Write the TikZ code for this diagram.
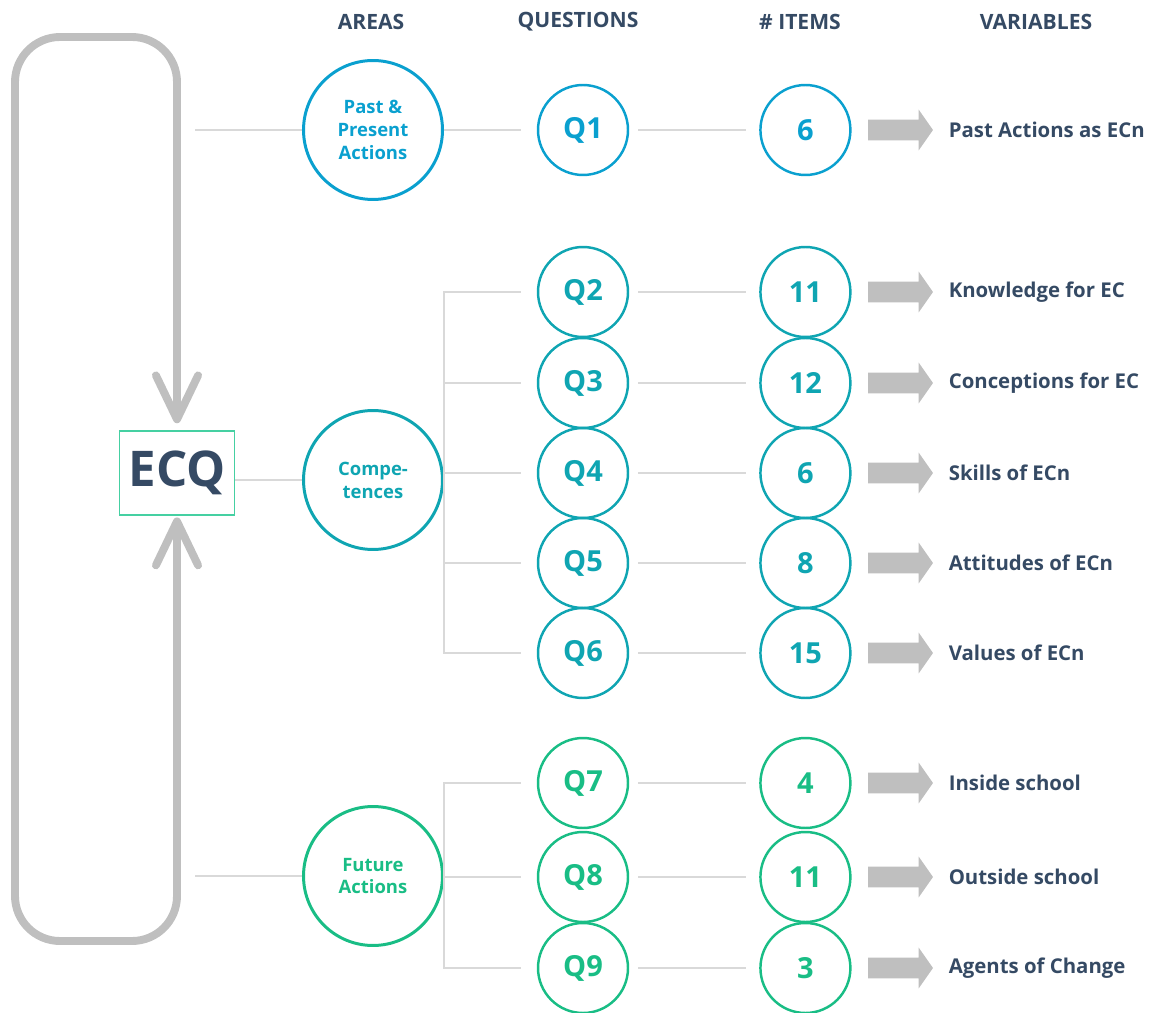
\documentclass[tikz,border=0pt]{standalone}
\usepackage{fontspec}
\setmainfont{Open Sans}
\usetikzlibrary{positioning, arrows.meta, shapes.arrows}
\definecolor{navy}{HTML}{354A64}
\definecolor{pastblue}{HTML}{0AA0CF}
\definecolor{compteal}{HTML}{0FA5B2}
\definecolor{futgreen}{HTML}{19BD85}
\definecolor{loopgray}{HTML}{BFBFBF}
\definecolor{linkgray}{HTML}{D9D9D9}
\definecolor{boxgreen}{HTML}{45D0A2}
\tikzset{%
  header/.style={font=\bfseries\fontsize{12}{14}\selectfont, text=navy}, % column titles
  area/.style={circle, draw=#1, text=#1, line width=1.7pt, minimum size=2.78cm, align=center,
    font=\bfseries\fontsize{10.5}{13}\selectfont},
  ques/.style={circle, draw=#1, text=#1, line width=1.4pt, minimum size=1.8cm,
    font=\bfseries\fontsize{16.5}{18}\selectfont},
  link/.style={draw=linkgray, line width=1.1pt},
  blockarrow/.style={single arrow, fill=loopgray, draw=none, inner sep=0.2cm,
    single arrow head extend=0.2cm, single arrow tip angle=110, minimum height=1.3cm},
  varlabel/.style={font=\bfseries\fontsize{11.6}{14}\selectfont, text=navy, inner sep=0pt, anchor=west}
}

\begin{document}
\begin{tikzpicture}[x=0.02cm, y=-0.02cm, node distance=2.6cm]
\useasboundingbox (0,0) rectangle (1156,1013);

% column titles
\node[header] (h0) at (371,22) {AREAS};
\node[header] (h1) at (578,22) {QUESTIONS};
\node[header] (h2) at (800,22) {\# ITEMS};
\node[header] (h3) at (1036,22) {VARIABLES};

% the questionnaire
\node[draw=boxgreen, line width=0.8pt, minimum width=2.3cm, minimum height=1.68cm, text=navy,
  font=\bfseries\fontsize{28}{30}\selectfont] (ecq) at (177,473) {ECQ};
\coordinate (lt) at (15,37);
\coordinate (lb) at (15,941);
\draw[loopgray, line width=4.5pt, rounded corners=0.9cm, line cap=round,
  {Straight Barb[length=25pt, width=24pt, line cap=round, line join=round]}-{Straight Barb[length=25pt, width=24pt, line cap=round, line join=round]},
  shorten <=4pt, shorten >=1pt]
  (ecq.north) -- (ecq.north |- lt) -- (lt) -- (lb) -- (ecq.south |- lb) -- (ecq.south);

% areas
\node[area=pastblue] (a0) at (373,130) {Past \&\\Present\\Actions};
\node[area=compteal] (a1) at (373,480) {Compe-\\tences};
\node[area=futgreen] (a2) at (373,876) {Future\\Actions};
\coordinate (s0) at (195,130);
\coordinate (s2) at (195,876);

% questions
\node[ques=pastblue] (q1) at (583,130) {Q1};
\node[ques=compteal] (q2) at (583,292) {Q2};
\node[ques=compteal] (q3) at (583,383) {Q3};
\node[ques=compteal] (q4) at (583,473) {Q4};
\node[ques=compteal] (q5) at (583,563) {Q5};
\node[ques=compteal] (q6) at (583,653) {Q6};
\node[ques=futgreen] (q7) at (583,783) {Q7};
\node[ques=futgreen] (q8) at (583,877) {Q8};
\node[ques=futgreen] (q9) at (583,968) {Q9};

% number of items
\node[ques=pastblue, right=of q1] (n1) {6};
\node[ques=compteal, right=of q2] (n2) {11};
\node[ques=compteal, right=of q3] (n3) {12};
\node[ques=compteal, right=of q4] (n4) {6};
\node[ques=compteal, right=of q5] (n5) {8};
\node[ques=compteal, right=of q6] (n6) {15};
\node[ques=futgreen, right=of q7] (n7) {4};
\node[ques=futgreen, right=of q8] (n8) {11};
\node[ques=futgreen, right=of q9] (n9) {3};

% variables
\foreach \i/\txt in {1/Past Actions as ECn, 2/Knowledge for EC, 3/Conceptions for EC,
  4/Skills of ECn, 5/Attitudes of ECn, 6/Values of ECn, 7/Inside school,
  8/Outside school, 9/Agents of Change} {
  \node[blockarrow, right=0.32cm of n\i] (r\i) {};
  \node[varlabel, right=0.3cm of r\i] (v\i) {\txt};
}

% links
\draw[link] (s0) -- (a0);
\draw[link] (ecq.east |- a1) -- (a1);
\draw[link] (s2) -- (a2);
\draw[link, shorten >=0.32cm] (a0) -- (q1);
\draw[link, shorten >=0.32cm] (a1.east) |- (q2.west);
\draw[link, shorten >=0.32cm] (a1.east) |- (q3.west);
\draw[link, shorten >=0.32cm] (a1.east) |- (q4.west);
\draw[link, shorten >=0.32cm] (a1.east) |- (q5.west);
\draw[link, shorten >=0.32cm] (a1.east) |- (q6.west);
\draw[link, shorten >=0.32cm] (a2.east) |- (q7.west);
\draw[link, shorten >=0.32cm] (a2.east) |- (q8.west);
\draw[link, shorten >=0.32cm] (a2.east) |- (q9.west);
\foreach \i in {1,...,9}
  \draw[link, shorten <=0.18cm, shorten >=0.26cm] (q\i) -- (n\i);

\end{tikzpicture}
\end{document}
